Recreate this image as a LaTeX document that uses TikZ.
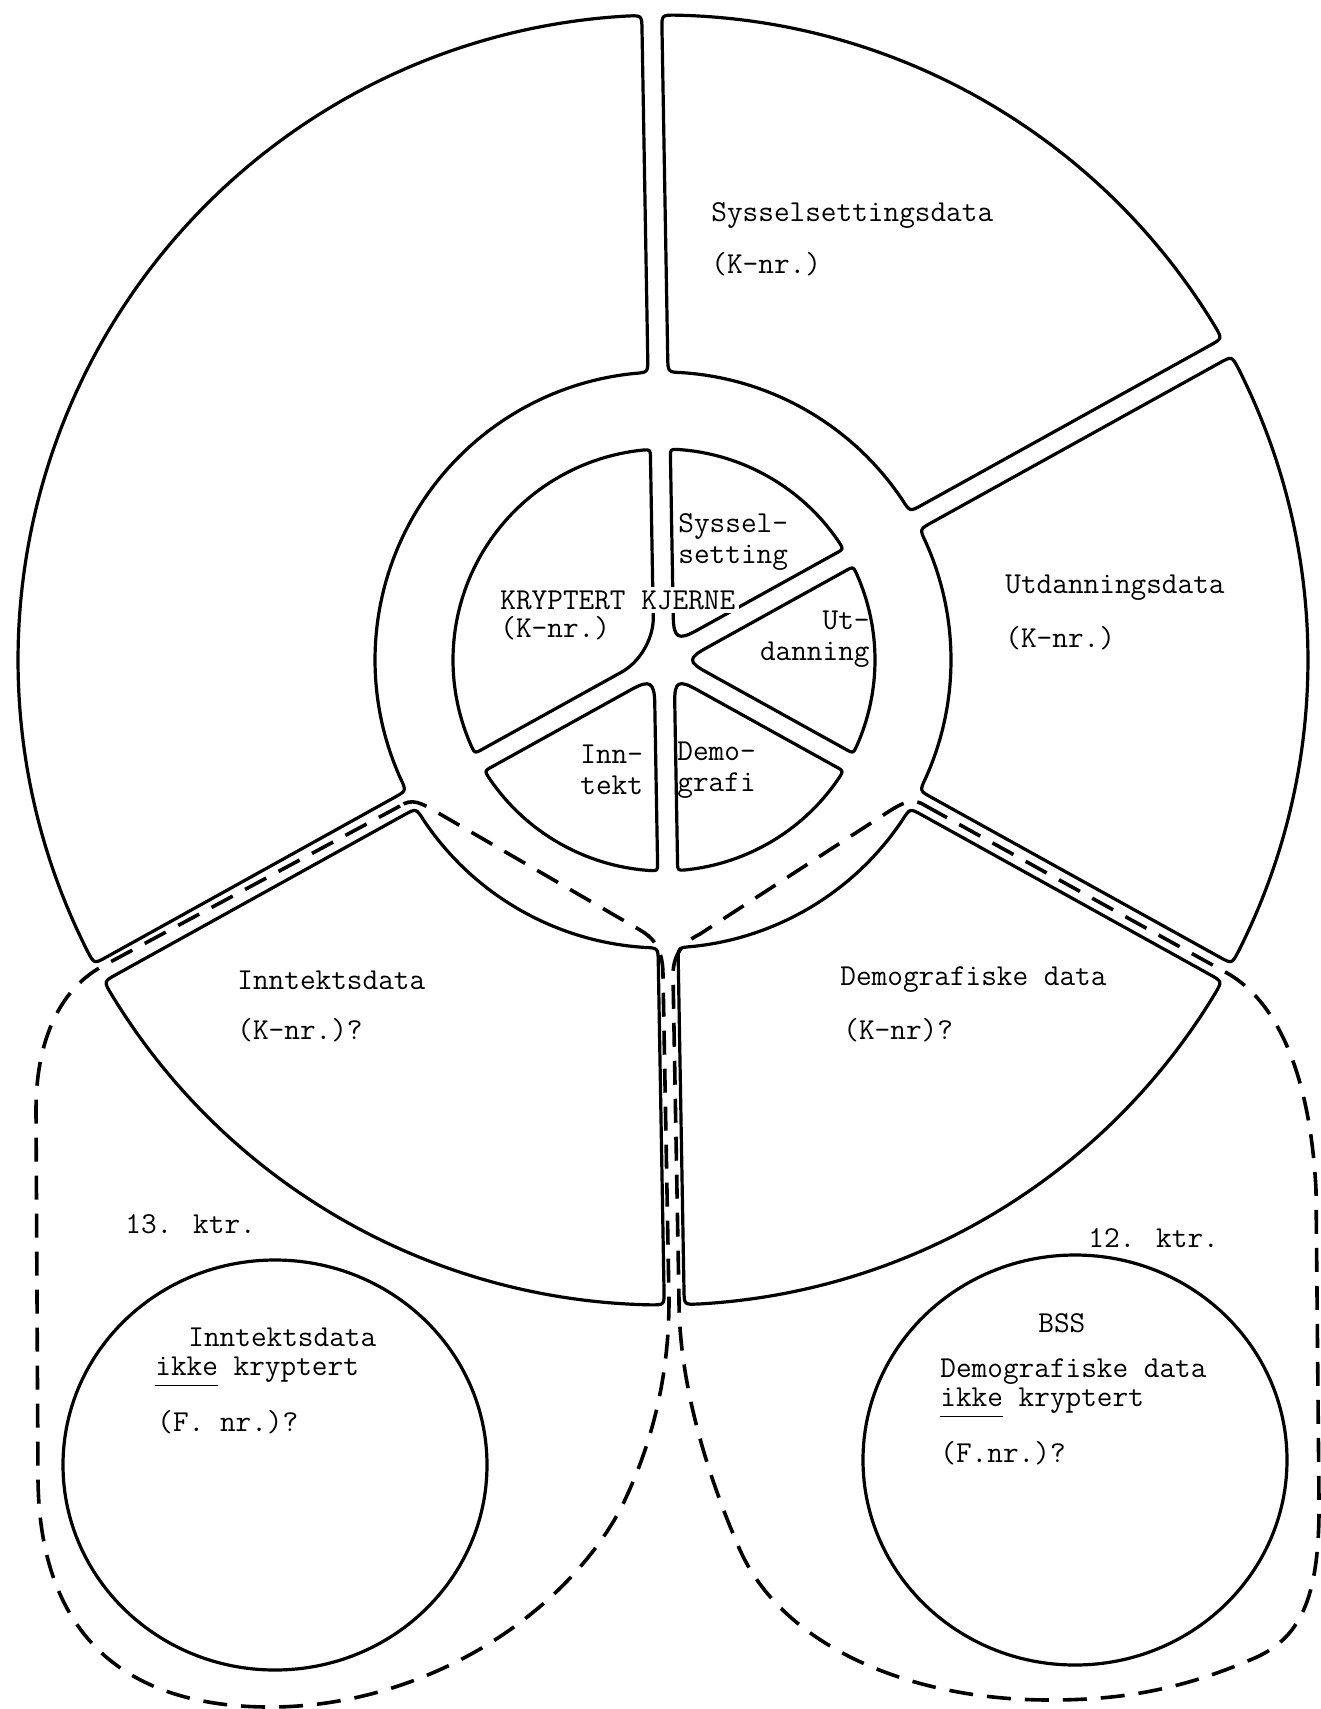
\documentclass[tikz,border=0pt]{standalone}
\usepackage{fontspec}
\usepackage{tikz}
\usetikzlibrary{calc}

\def\gapw{10}
% #1 style, #2 centre, #3 inner radius, #4 outer radius, #5/#6 angles, #7 corner
\newcommand{\ringpiece}[7]{%
  \draw[#1] ($(#2)+({#5+asin(\gapw/#3)+#7/#3*57.3}:#3)$)
    .. controls ($(#2)+({#5+asin(\gapw/#3)}:#3)$) .. ($(#2)+({#5+asin(\gapw/(#3+#7))}:{#3+#7})$)
    -- ($(#2)+({#5+asin(\gapw/(#4-#7))}:{#4-#7})$)
    .. controls ($(#2)+({#5+asin(\gapw/#4)}:#4)$) .. ($(#2)+({#5+asin(\gapw/#4)+#7/#4*57.3}:#4)$)
    arc[start angle={#5+asin(\gapw/#4)+#7/#4*57.3}, end angle={#6-asin(\gapw/#4)-#7/#4*57.3}, radius=#4]
    .. controls ($(#2)+({#6-asin(\gapw/#4)}:#4)$) .. ($(#2)+({#6-asin(\gapw/(#4-#7))}:{#4-#7})$)
    -- ($(#2)+({#6-asin(\gapw/(#3+#7))}:{#3+#7})$)
    .. controls ($(#2)+({#6-asin(\gapw/#3)}:#3)$) .. ($(#2)+({#6-asin(\gapw/#3)-#7/#3*57.3}:#3)$)
    arc[start angle={#6-asin(\gapw/#3)-#7/#3*57.3}, end angle={#5+asin(\gapw/#3)+#7/#3*57.3}, radius=#3]
    -- cycle;}
% same, but with a rounded tip at the centre (#3 tip radius)
\newcommand{\corepiece}[7]{%
  \draw[#1] ($(#2)+({#6-asin(\gapw/(#3+20))}:{#3+20})$)
    .. controls ($(#2)+({#6-asin(\gapw/#3)}:#3)$) and ($(#2)+({#5+asin(\gapw/#3)}:#3)$)
    .. ($(#2)+({#5+asin(\gapw/(#3+20))}:{#3+20})$)
    -- ($(#2)+({#5+asin(\gapw/(#4-#7))}:{#4-#7})$)
    .. controls ($(#2)+({#5+asin(\gapw/#4)}:#4)$) .. ($(#2)+({#5+asin(\gapw/#4)+#7/#4*57.3}:#4)$)
    arc[start angle={#5+asin(\gapw/#4)+#7/#4*57.3}, end angle={#6-asin(\gapw/#4)-#7/#4*57.3}, radius=#4]
    .. controls ($(#2)+({#6-asin(\gapw/#4)}:#4)$) .. ($(#2)+({#6-asin(\gapw/(#4-#7))}:{#4-#7})$)
    -- cycle;}

\begin{document}
\begin{tikzpicture}[x=0.5pt, y=-0.5pt, line join=round,
        piece_style/.style={draw=black, line width=1.6pt},
        loop_style/.style={draw=black, line width=1.8pt, dash pattern=on 12pt off 7pt},
        text_style/.style={font=\ttfamily\fontsize{15.2}{15.5}\selectfont, inner sep=0pt, anchor=west, align=left}]

        \useasboundingbox (0,0) rectangle (1321,1709);

        \coordinate (outer_centre) at (663,660);
        \coordinate (core_centre) at (664,660);

        \foreach \a/\b in {29/89, 89/151, 151/269, 269/331, 331/389}
          \ringpiece{piece_style}{outer_centre}{288}{645}{\a}{\b}{14};

        \foreach \a/\b in {29/89, 89/151, 151/269, 269/331, 331/389}
          \corepiece{piece_style}{core_centre}{24}{211}{\a}{\b}{8};

        \draw [piece_style] (275,1465) ellipse [x radius=212, y radius=205];

        \draw [piece_style] (1075,1460) ellipse [x radius=212, y radius=205];

        \draw [loop_style] (400,806) -- (101,967) .. controls (60,990) and (36,1040) .. (36,1110)
          -- (38,1480) .. controls (40,1640) and (130,1707) .. (270,1707)
          .. controls (420,1707) and (560,1620) .. (620,1510)
          .. controls (655,1440) and (669,1370) .. (669,1300)
          -- (663,975) .. controls (663,945) and (650,936) .. (640,930)
          -- (440,814) .. controls (420,802) and (412,798) .. (400,806);

        \draw [loop_style] (926,806) -- (1227,973) .. controls (1275,1000) and (1310,1070) .. (1316,1190)
          -- (1319,1500) .. controls (1320,1600) and (1300,1640) .. (1250,1660)
          .. controls (1180,1690) and (1120,1700) .. (1050,1700)
          .. controls (900,1700) and (780,1640) .. (740,1550)
          .. controls (705,1470) and (679,1380) .. (679,1300)
          -- (673,975) .. controls (673,950) and (688,940) .. (700,934)
          -- (888,812) .. controls (905,801) and (914,798) .. (926,806);

        \node [text_style](syssel_data) at (711,216) {Sysselsettingsdata};

        \node [text_style](syssel_knr) at (711,264) {(K-nr.)};

        \node [text_style](utd_data) at (1005,588) {Utdanningsdata};

        \node [text_style](utd_knr) at (1005,638) {(K-nr.)};

        \node [text_style](inn_data) at (237,980) {Inntektsdata};

        \node [text_style](inn_knr) at (237,1030) {(K-nr.)?};

        \node [text_style](demo_data) at (840,980) {Demografiske data};

        \node [text_style](demo_knr) at (843,1030) {(K-nr)?};

        \node [text_style](ktr_13) at (125,1224) {13. ktr.};

        \node [text_style](ktr_12) at (1088,1238) {12. ktr.};

        \node [text_style](left_inn) at (188,1337) {Inntektsdata};

        \node [text_style](left_ikke) at (155,1372) {\underline{ikke\vphantom{p}} kryptert};

        \node [text_style](left_fnr) at (157,1422) {(F. nr.)?};

        \node [text_style](right_bss) at (1038,1323) {BSS};

        \node [text_style](right_demo) at (940,1372) {Demografiske data};

        \node [text_style](right_ikke) at (940,1403) {\underline{ikke\vphantom{p}} kryptert};

        \node [text_style](right_fnr) at (940,1453) {(F.nr.)?};

        \node [text_style](core_syssel) at (678,542) {Syssel-\\setting};

        \node [text_style, anchor=east, align=right](core_utd) at (870,639) {Ut-\\danning};

        \node [text_style](core_inn) at (580,770) {Inn-\\tekt};

        \node [text_style](core_demo) at (677,770) {Demo-\\grafi};

        \node [text_style, fill=white, inner sep=2pt](core_kjerne) at (496,600) {KRYPTERT KJERNE};

        \node [text_style](core_knr) at (500,628) {(K-nr.)};

        \end{tikzpicture}
\end{document}
